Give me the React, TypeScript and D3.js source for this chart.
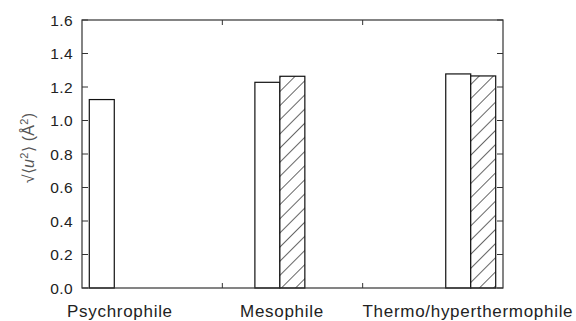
import * as d3 from "d3";
import React, { useEffect, useRef } from "react";

// group labels and where each group sits on the category axis (0..3)
const categories = ["Psychrophile", "Mesophile", "Thermo/hyperthermophile"];
const groupCenters = [0.23, 1.41, 2.77];
const labelPositions = [0.27, 1.425, 2.75];
// open bars / hatched bars (null = no bar)
const openValues: (number | null)[] = [1.125, 1.228, 1.278];
const hatchedValues: (number | null)[] = [null, 1.264, 1.266];
const yTicks = [0.0, 0.2, 0.4, 0.6, 0.8, 1.0, 1.2, 1.4, 1.6];
const xTicks = [1, 2];

const W = 576;
const H = 321;
const margin = { top: 20, right: 73, bottom: 33, left: 82 };
const barWidth = 0.178;
const FONT = "Liberation Sans, Arial, Helvetica, sans-serif";

const App: React.FC = () => {
  const svgRef = useRef<SVGSVGElement>(null);

  useEffect(() => {
    const svg = d3.select(svgRef.current);
    svg.selectAll("*").remove();

    const innerW = W - margin.left - margin.right;
    const innerH = H - margin.top - margin.bottom;

    const x = d3.scaleLinear().domain([0, 3]).range([0, innerW]);
    const y = d3.scaleLinear().domain([0, 1.6]).range([innerH, 0]);

    const defs = svg.append("defs");
    const pat = defs
      .append("pattern")
      .attr("id", "hatch")
      .attr("patternUnits", "userSpaceOnUse")
      .attr("width", 10)
      .attr("height", 10)
      .attr("patternTransform", "rotate(45)");
    pat.append("rect").attr("width", 10).attr("height", 10).attr("fill", "#fff");
    pat
      .append("line")
      .attr("x1", 0)
      .attr("y1", 0)
      .attr("x2", 0)
      .attr("y2", 10)
      .attr("stroke", "#000")
      .attr("stroke-width", 1.2);

    const g = svg.append("g").attr("transform", `translate(${margin.left},${margin.top})`);

    // bars
    const open = categories.map((c, i) => ({ c, i, v: openValues[i] })).filter((d) => d.v != null);
    g.selectAll("rect.open")
      .data(open)
      .enter()
      .append("rect")
      .attr("class", "open")
      .attr("x", (d) => x(groupCenters[d.i] - barWidth))
      .attr("y", (d) => y(d.v as number))
      .attr("width", x(barWidth) - x(0))
      .attr("height", (d) => innerH - y(d.v as number))
      .attr("fill", "#fff")
      .attr("stroke", "#111")
      .attr("stroke-width", 1.2);

    const hatched = categories.map((c, i) => ({ c, i, v: hatchedValues[i] })).filter((d) => d.v != null);
    g.selectAll("rect.hatched")
      .data(hatched)
      .enter()
      .append("rect")
      .attr("class", "hatched")
      .attr("x", (d) => x(groupCenters[d.i]))
      .attr("y", (d) => y(d.v as number))
      .attr("width", x(barWidth) - x(0))
      .attr("height", (d) => innerH - y(d.v as number))
      .attr("fill", "url(#hatch)")
      .attr("stroke", "#111")
      .attr("stroke-width", 1.2);

    // frame
    g.append("rect")
      .attr("width", innerW)
      .attr("height", innerH)
      .attr("fill", "none")
      .attr("stroke", "#333")
      .attr("stroke-width", 1.2);

    // y ticks (inside, both sides)
    const tl = 6;
    g.selectAll("line.yl")
      .data(yTicks)
      .enter()
      .append("line")
      .attr("x1", 0)
      .attr("x2", tl)
      .attr("y1", (d) => y(d))
      .attr("y2", (d) => y(d))
      .attr("stroke", "#333");
    g.selectAll("line.yr")
      .data(yTicks)
      .enter()
      .append("line")
      .attr("x1", innerW)
      .attr("x2", innerW - tl)
      .attr("y1", (d) => y(d))
      .attr("y2", (d) => y(d))
      .attr("stroke", "#333");
    g.selectAll("text.yt")
      .data(yTicks)
      .enter()
      .append("text")
      .attr("x", -9)
      .attr("y", (d) => y(d))
      .attr("dy", "0.36em")
      .attr("text-anchor", "end")
      .attr("font-family", FONT)
      .attr("font-size", 15.5)
      .attr("letter-spacing", 0.4)
      .attr("fill", "#222")
      .text((d) => d3.format(".1f")(d));

    // x ticks (top and bottom)
    g.selectAll("line.xb")
      .data(xTicks)
      .enter()
      .append("line")
      .attr("x1", (d) => x(d))
      .attr("x2", (d) => x(d))
      .attr("y1", innerH)
      .attr("y2", innerH - 5)
      .attr("stroke", "#333");
    g.selectAll("line.xt")
      .data(xTicks)
      .enter()
      .append("line")
      .attr("x1", (d) => x(d))
      .attr("x2", (d) => x(d))
      .attr("y1", 0)
      .attr("y2", 5)
      .attr("stroke", "#333");

    g.selectAll("text.cat")
      .data(categories)
      .enter()
      .append("text")
      .attr("x", (d, i) => x(labelPositions[i]))
      .attr("y", innerH + 29)
      .attr("text-anchor", "middle")
      .attr("font-family", FONT)
      .attr("font-size", 17)
      .attr("letter-spacing", 0.7)
      .attr("fill", "#222")
      .text((d) => d);

    // y label
    const yl = svg
      .append("text")
      .attr("transform", `translate(34,148) rotate(-90)`)
      .attr("text-anchor", "middle")
      .attr("font-family", FONT)
      .attr("font-size", 16)
      .attr("letter-spacing", 0.3)
      .attr("fill", "#555");
    yl.append("tspan").text("√⟨");
    yl.append("tspan").attr("font-style", "italic").text("u");
    yl.append("tspan").attr("font-size", 11).attr("dy", -6).text("2");
    yl.append("tspan").attr("dy", 6).text("⟩ (Å");
    yl.append("tspan").attr("font-size", 11).attr("dy", -6).text("2");
    yl.append("tspan").attr("dy", 6).text(")");
  }, []);

  return (
    <svg
      ref={svgRef}
      width={W}
      height={H}
      style={{ position: "absolute", left: 0, top: 0, background: "#fff" }}
    ></svg>
  );
};

export default App;
